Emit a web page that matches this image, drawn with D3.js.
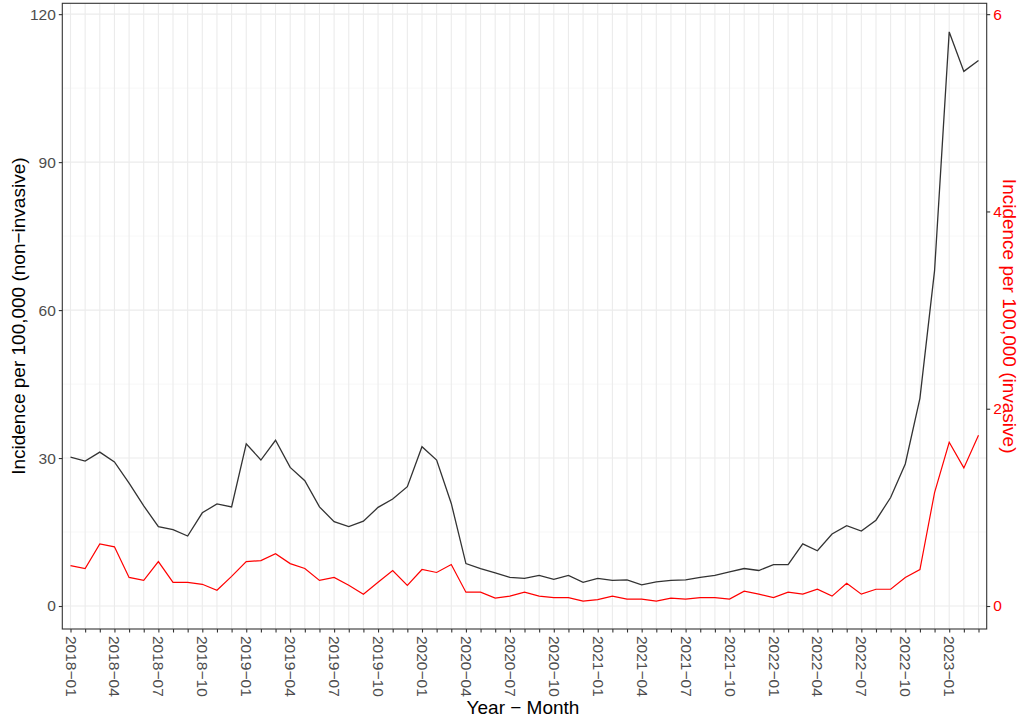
<!DOCTYPE html>
<html>
<head>
<meta charset="utf-8">
<script src="https://cdn.jsdelivr.net/npm/d3@7"></script>
<style>
  body { margin: 0; background: #fff; }
  svg { display: block; font-family: "Liberation Sans", Arial, sans-serif; }
</style>
</head>
<body>
<svg id="chart" width="1024" height="728"></svg>
<script>
// Months 2018-01 .. 2023-03
const months = [];
for (let y = 2018; y <= 2023; y++) {
  for (let m = 1; m <= 12; m++) {
    if (y === 2023 && m > 3) break;
    months.push(y + "-" + String(m).padStart(2, "0"));
  }
}
const nonInvasive = [30.2, 29.4, 31.2, 29.2, 24.9, 20.3, 16.1, 15.5, 14.2, 18.9, 20.7, 20.1,
  32.9, 29.6, 33.6, 28.1, 25.4, 20.1, 17.1, 16.1, 17.2, 20.0, 21.7, 24.2,
  32.3, 29.6, 20.8, 8.6, 7.6, 6.7, 5.8, 5.6, 6.2, 5.4, 6.2, 4.8,
  5.6, 5.2, 5.3, 4.3, 4.9, 5.2, 5.3, 5.8, 6.2, 6.9, 7.6, 7.2,
  8.4, 8.4, 12.6, 11.2, 14.6, 16.3, 15.2, 17.4, 22.0, 28.8, 42.1, 68.0,
  116.4, 108.4, 110.6];
const invasive = [0.41, 0.38, 0.63, 0.60, 0.29, 0.26, 0.45, 0.24, 0.24, 0.22, 0.16, 0.30,
  0.45, 0.46, 0.53, 0.43, 0.38, 0.26, 0.29, 0.21, 0.12, 0.24, 0.36, 0.21,
  0.37, 0.34, 0.42, 0.14, 0.14, 0.08, 0.10, 0.14, 0.10, 0.085, 0.085, 0.05,
  0.065, 0.10, 0.07, 0.07, 0.05, 0.08, 0.07, 0.085, 0.085, 0.07, 0.15, 0.12,
  0.085, 0.14, 0.12, 0.17, 0.10, 0.23, 0.12, 0.17, 0.17, 0.29, 0.37, 1.15,
  1.66, 1.40, 1.73];
const leftTicks = [0, 30, 60, 90, 120];
const leftMinor = [15, 45, 75, 105];
const rightTicks = [0, 2, 4, 6];
const labelMonths = months.filter((d, i) => i % 3 === 0);

const svg = d3.select("#chart");
const L = 62.3, R = 986.7, T = 3.3, B = 629;
const FONT = "Liberation Sans, Arial, sans-serif";

const x = d3.scalePoint().domain(months).range([L, R]).padding(0.56);
const y = d3.scaleLinear().domain([-4.66, 122.2]).range([B, T]);
const y2 = d3.scaleLinear().domain([-4.66 / 20, 122.2 / 20]).range([B, T]);

// grid
const g = svg.append("g");
g.selectAll("line.minor").data(leftMinor).join("line")
  .attr("x1", L).attr("x2", R).attr("y1", d => y(d)).attr("y2", d => y(d))
  .attr("stroke", "#f2f2f2").attr("stroke-width", 0.6);
g.selectAll("line.vmaj").data(months).join("line")
  .attr("x1", d => x(d)).attr("x2", d => x(d)).attr("y1", T).attr("y2", B)
  .attr("stroke", "#ebebeb").attr("stroke-width", 1.1);
g.selectAll("line.hmaj").data(leftTicks).join("line")
  .attr("x1", L).attr("x2", R).attr("y1", d => y(d)).attr("y2", d => y(d))
  .attr("stroke", "#ebebeb").attr("stroke-width", 1.1);

// lines
const lineBlack = d3.line().x((d, i) => x(months[i])).y(d => y(d));
const lineRed = d3.line().x((d, i) => x(months[i])).y(d => y2(d));
svg.append("path").datum(nonInvasive).attr("d", lineBlack)
  .attr("fill", "none").attr("stroke", "#333333").attr("stroke-width", 1.3);
svg.append("path").datum(invasive).attr("d", lineRed)
  .attr("fill", "none").attr("stroke", "#ff0000").attr("stroke-width", 1.2);

// panel border
svg.append("rect").attr("x", L).attr("y", T).attr("width", R - L).attr("height", B - T)
  .attr("fill", "none").attr("stroke", "#333333").attr("stroke-width", 1.1);

// axes
const axL = svg.append("g").attr("transform", `translate(${L},0)`)
  .call(d3.axisLeft(y).tickValues(leftTicks).tickSize(3.5).tickPadding(3).tickFormat(d3.format("d")));
axL.select(".domain").remove();
axL.selectAll("line").attr("stroke", "#333333").attr("stroke-width", 1.1);
axL.selectAll("text").attr("fill", "#4d4d4d").style("font-size", "15.5px").style("font-family", FONT);

const axR = svg.append("g").attr("transform", `translate(${R},0)`)
  .call(d3.axisRight(y2).tickValues(rightTicks).tickSize(3.5).tickPadding(3).tickFormat(d3.format("d")));
axR.select(".domain").remove();
axR.selectAll("line").attr("stroke", "#333333").attr("stroke-width", 1.1);
axR.selectAll("text").attr("fill", "#ff0000").style("font-size", "15.5px").style("font-family", FONT);

const axB = svg.append("g").attr("transform", `translate(0,${B})`)
  .call(d3.axisBottom(x).tickValues(months).tickSize(3.5)
    .tickFormat(d => labelMonths.includes(d) ? d.replace("-", "\u2212") : ""));
axB.select(".domain").remove();
axB.selectAll("line").attr("stroke", "#333333").attr("stroke-width", 1.1);
axB.selectAll("text")
  .attr("fill", "#4d4d4d").style("font-size", "15.5px").style("font-family", FONT)
  .attr("transform", "rotate(90)")
  .attr("x", 7).attr("y", 0).attr("dy", "0.35em")
  .attr("text-anchor", "start");

// titles
svg.append("text").attr("x", 523).attr("y", 714).attr("text-anchor", "middle")
  .attr("fill", "#000").style("font-size", "19px").text("Year \u2212 Month");
svg.append("text").attr("transform", `translate(25,${(T + B) / 2}) rotate(-90)`)
  .attr("text-anchor", "middle").attr("fill", "#000").style("font-size", "19px")
  .text("Incidence per 100,000 (non\u2212invasive)");
svg.append("text").attr("transform", `translate(1003,${(T + B) / 2}) rotate(90)`)
  .attr("text-anchor", "middle").attr("fill", "#ff0000").style("font-size", "19px")
  .text("Incidence per 100,000 (invasive)");
</script>
</body>
</html>
